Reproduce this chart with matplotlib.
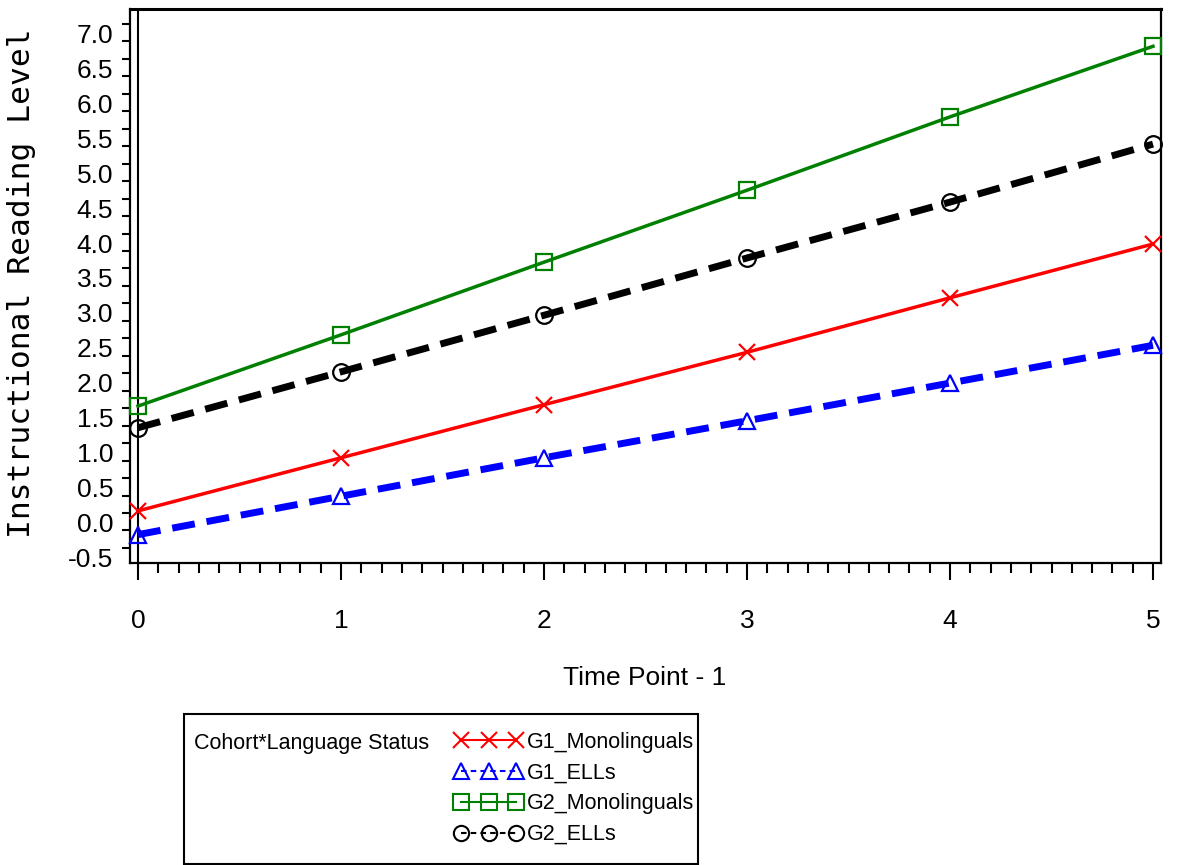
import matplotlib
matplotlib.use("Agg")
import matplotlib.pyplot as plt
from matplotlib.lines import Line2D
from matplotlib.patches import Rectangle
from matplotlib.ticker import MultipleLocator, FixedLocator
from matplotlib import font_manager

# ---- data ----
time_points = [0, 1, 2, 3, 4, 5]
g1_mono = [0.03, 0.79, 1.55, 2.30, 3.08, 3.85]
g1_ells = [-0.31, 0.24, 0.79, 1.32, 1.86, 2.40]
g2_mono = [1.53, 2.55, 3.59, 4.62, 5.67, 6.68]
g2_ells = [1.22, 2.02, 2.83, 3.65, 4.45, 5.28]
series_labels = ["G1_Monolinguals", "G1_ELLs", "G2_Monolinguals", "G2_ELLs"]
y_ticks = [-0.5, 0.0, 0.5, 1.0, 1.5, 2.0, 2.5, 3.0, 3.5, 4.0, 4.5, 5.0, 5.5, 6.0, 6.5, 7.0]
x_ticks = [0, 1, 2, 3, 4, 5]
x_label = "Time Point - 1"
y_label = "Instructional Reading Level"
legend_title = "Cohort*Language Status"


def pick(fams):
    for f in fams:
        try:
            font_manager.findfont(f, fallback_to_default=False)
            return f
        except Exception:
            pass
    return "DejaVu Sans"


sans = pick(["Liberation Sans", "Arial"])
mono = pick(["DejaVu Sans Mono", "Liberation Mono"])

plt.rcParams["font.family"] = [sans, "DejaVu Sans"]
plt.rcParams["lines.scale_dashes"] = False

W, H = 1178, 865
fig = plt.figure(figsize=(W / 100, H / 100), dpi=100)
ax = fig.add_axes([130 / W, 1 - 563 / H, (1161 - 130) / W, (563 - 9) / H])

styles = [
    dict(color="#ff0000", lw=2.5, ls="-", marker="x", ms=12, mew=1.6),
    dict(color="#0000ff", lw=5.0, ls=(0, (16.5, 8.6)), marker="^", ms=12, mew=1.6),
    dict(color="#008000", lw=2.5, ls="-", marker="s", ms=12, mew=1.6),
    dict(color="#000000", lw=5.0, ls=(0, (16.5, 8.6)), marker="o", ms=12, mew=1.6),
]
all_series = [g1_mono, g1_ells, g2_mono, g2_ells]
for ys, st in zip(all_series, styles):
    ax.plot(time_points, ys, color=st["color"], lw=st["lw"], ls=st["ls"],
            marker=st["marker"], ms=st["ms"], mew=st["mew"], mfc="none",
            mec=st["color"], clip_on=False, zorder=3)

ax.set_xlim(-8 / 203, 5 + 8 / 203)
ax.set_ylim(-0.716, 7.214)
ax.axvline(0, color="black", lw=1.5, zorder=2)

for s in ax.spines.values():
    s.set_linewidth(1.6)
ax.spines["top"].set_linewidth(2.2)

ax.xaxis.set_major_locator(FixedLocator(x_ticks))
ax.xaxis.set_minor_locator(MultipleLocator(0.1))
ax.set_xticklabels([str(v) for v in x_ticks])
ax.tick_params(axis="x", which="major", direction="out", length=12, width=1.5,
               pad=21, labelsize=19)
ax.tick_params(axis="x", which="minor", direction="out", length=7, width=1.5)

ax.yaxis.set_major_locator(FixedLocator(y_ticks))
ax.yaxis.set_minor_locator(MultipleLocator(0.25))
ax.set_yticklabels([f"{v:.1f}" for v in y_ticks])
ax.tick_params(axis="y", which="major", direction="out", length=6, width=1.5,
               pad=6, labelsize=19)
ax.tick_params(axis="y", which="minor", direction="out", length=6, width=1.5)
for lab in ax.get_yticklabels():
    lab.set_va("top")

fig.text(645 / W, 1 - 678 / H, x_label, ha="center", va="center", fontsize=19)
fig.text(22 / W, 1 - 283 / H, y_label, rotation=90, ha="center", va="center",
         fontsize=22.5, family=[mono, "DejaVu Sans"])

# ---- legend box ----
fig.add_artist(Rectangle((184 / W, 1 - 864 / H), (698 - 184) / W, (864 - 714) / H,
                         transform=fig.transFigure, fill=False, ec="black", lw=1.5))
fig.text(194 / W, 1 - 743 / H, legend_title, ha="left", va="center", fontsize=15.5)
handles = []
for st, lab in zip(styles, series_labels):
    ls = "-" if st["ls"] == "-" else (0, (4, 3))
    handles.append(Line2D([], [], color=st["color"], lw=1.5, ls=ls,
                          marker=st["marker"], ms=11, mew=1.5, mfc="none",
                          mec=st["color"], label=lab))
fig.legend(handles=handles, loc="upper left", bbox_to_anchor=(455 / W, 1 - 732 / H),
           frameon=False, borderpad=0, borderaxespad=0, numpoints=3,
           handlelength=3.12, handletextpad=0.23, labelspacing=0.45,
           prop={"size": 15.5})

fig.savefig("out.png", dpi=100)
